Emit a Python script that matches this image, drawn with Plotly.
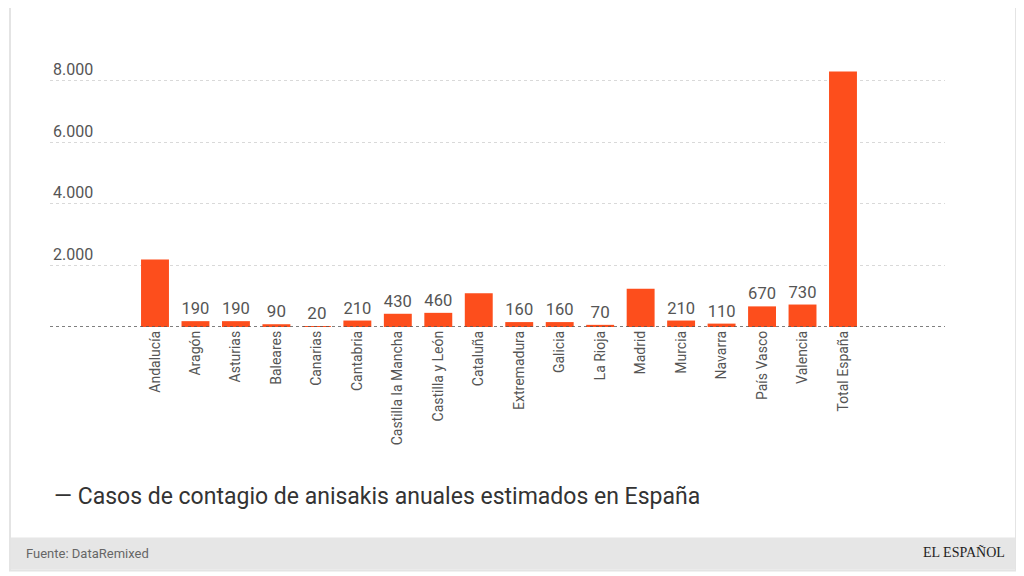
import plotly.graph_objects as go

categories = ["Andalucía", "Aragón", "Asturias", "Baleares", "Canarias", "Cantabria",
              "Castilla la Mancha", "Castilla y León", "Cataluña", "Extremadura", "Galicia",
              "La Rioja", "Madrid", "Murcia", "Navarra", "País Vasco", "Valencia", "Total España"]
values = [2190, 190, 190, 90, 20, 210, 430, 460, 1100, 160, 160, 70, 1240, 210, 110, 670, 730, 8300]
y_ticks = [2000, 4000, 6000, 8000]
y_tick_labels = ["2.000", "4.000", "6.000", "8.000"]
title_text = "— Casos de contagio de anisakis anuales estimados en España"
source_text = "Fuente: DataRemixed"
brand_text = "EL ESPAÑOL"

OFF = 8  # default page body margin
W, H = 1024 - OFF, 576 - OFF
PX_PER_UNIT = 0.03075
YMAX = 9000
BASE = 326.7 - OFF
TOP = BASE - YMAX * PX_PER_UNIT
L, R = 50 - OFF, 945 - OFF

def px_x(px):
    return (px - OFF - L) / (R - L)

def px_y(py):
    return (BASE - (py - OFF)) / (BASE - TOP)

labels = [f"{v}" if v < 1000 else "" for v in values]

fig = go.Figure(go.Bar(
    x=categories, y=values,
    marker=dict(color="#fd4e1c", line=dict(width=0)),
    text=labels, textposition="outside", cliponaxis=False,
    textfont=dict(family="Roboto", size=17, color="#555555"),
    hoverinfo="skip",
))

step = 40.47
left_idx = (50 - 155) / step
right_idx = left_idx + (R - L) / step

fig.update_layout(
    width=W, height=H,
    margin=dict(l=L, r=W - R, t=TOP, b=H - BASE),
    paper_bgcolor="white", plot_bgcolor="rgba(0,0,0,0)",
    separators=",.",
    bargap=0.31,
    showlegend=False,
    font=dict(family="Roboto", color="#555555"),
    xaxis=dict(range=[left_idx, right_idx], tickangle=-90, showgrid=False,
               showline=False, ticks="", tickfont=dict(family="Roboto", size=14, color="#555555"),
               fixedrange=True),
    yaxis=dict(range=[0, YMAX], tickvals=y_ticks, ticktext=y_tick_labels,
               ticklabelposition="inside top", tickfont=dict(family="Roboto", size=16, color="#555555"),
               showgrid=True, gridcolor="#d9d9d9", griddash="dot", gridwidth=1,
               zeroline=False, showline=False, ticks="", fixedrange=True),
    shapes=[
        dict(type="rect", xref="paper", yref="paper", layer="below",
             x0=px_x(10), x1=px_x(1016), y0=px_y(570), y1=px_y(3),
             line=dict(color="#e4e4e4", width=2), fillcolor="white"),
        dict(type="rect", xref="paper", yref="paper", layer="below",
             x0=px_x(11), x1=px_x(1015), y0=px_y(569), y1=px_y(537),
             line=dict(width=0), fillcolor="#e6e6e6"),
        dict(type="line", xref="paper", yref="y", x0=0, x1=1, y0=0, y1=0,
             line=dict(color="#555555", width=1.5, dash="dot"), layer="above"),
    ],
    annotations=[
        dict(text=title_text, xref="paper", yref="paper", x=px_x(52), y=px_y(496),
             xanchor="left", yanchor="middle", showarrow=False,
             font=dict(family="Roboto", size=23, color="#333333")),
        dict(text=source_text, xref="paper", yref="paper", x=px_x(24), y=px_y(553),
             xanchor="left", yanchor="middle", showarrow=False,
             font=dict(family="Roboto", size=13, color="#666666")),
        dict(text=brand_text, xref="paper", yref="paper", x=px_x(1007), y=px_y(552),
             xanchor="right", yanchor="middle", showarrow=False,
             font=dict(family="Liberation Serif", size=14, color="#222222")),
    ],
)

fig.write_html("out.html")
